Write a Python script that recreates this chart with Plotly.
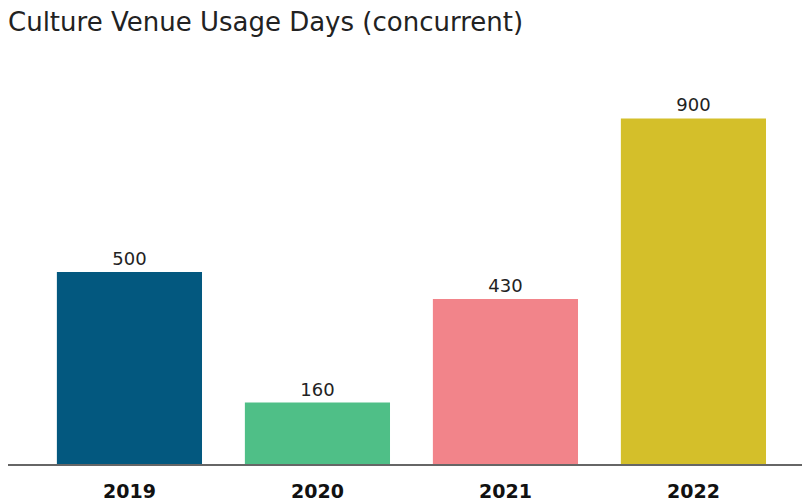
import plotly.graph_objects as go

years = ["2019", "2020", "2021", "2022"]
days = [500, 160, 430, 900]
colors = ["#03587F", "#4FBF87", "#F2848A", "#D4BF2A"]

fig = go.Figure(go.Bar(
    x=years, y=days, marker=dict(color=colors, line=dict(width=0)),
    text=[str(v) for v in days], textposition="outside",
    textfont=dict(size=18, color="#222222", family="DejaVu Sans"),
    cliponaxis=False, width=0.772,
))

fig.update_layout(
    width=810, height=502,
    margin=dict(l=0, r=8, t=72, b=46),
    paper_bgcolor="white", plot_bgcolor="white",
    title=dict(text="Culture Venue Usage Days (concurrent)", x=0.0, xanchor="left",
               y=0.972, yanchor="middle",
               font=dict(family="DejaVu Sans", size=26, color="#222222")),
    showlegend=False,
    xaxis=dict(range=[-0.646, 3.62], showline=True, linecolor="#666666", linewidth=2,
               ticks="outside", ticklen=9, tickcolor="rgba(0,0,0,0)",
               tickfont=dict(family="DejaVu Sans", size=19, color="#111111", weight="bold"),
               showgrid=False, zeroline=False),
    yaxis=dict(range=[0, 1000], visible=False, showgrid=False),
)

fig.write_html("out.html")
